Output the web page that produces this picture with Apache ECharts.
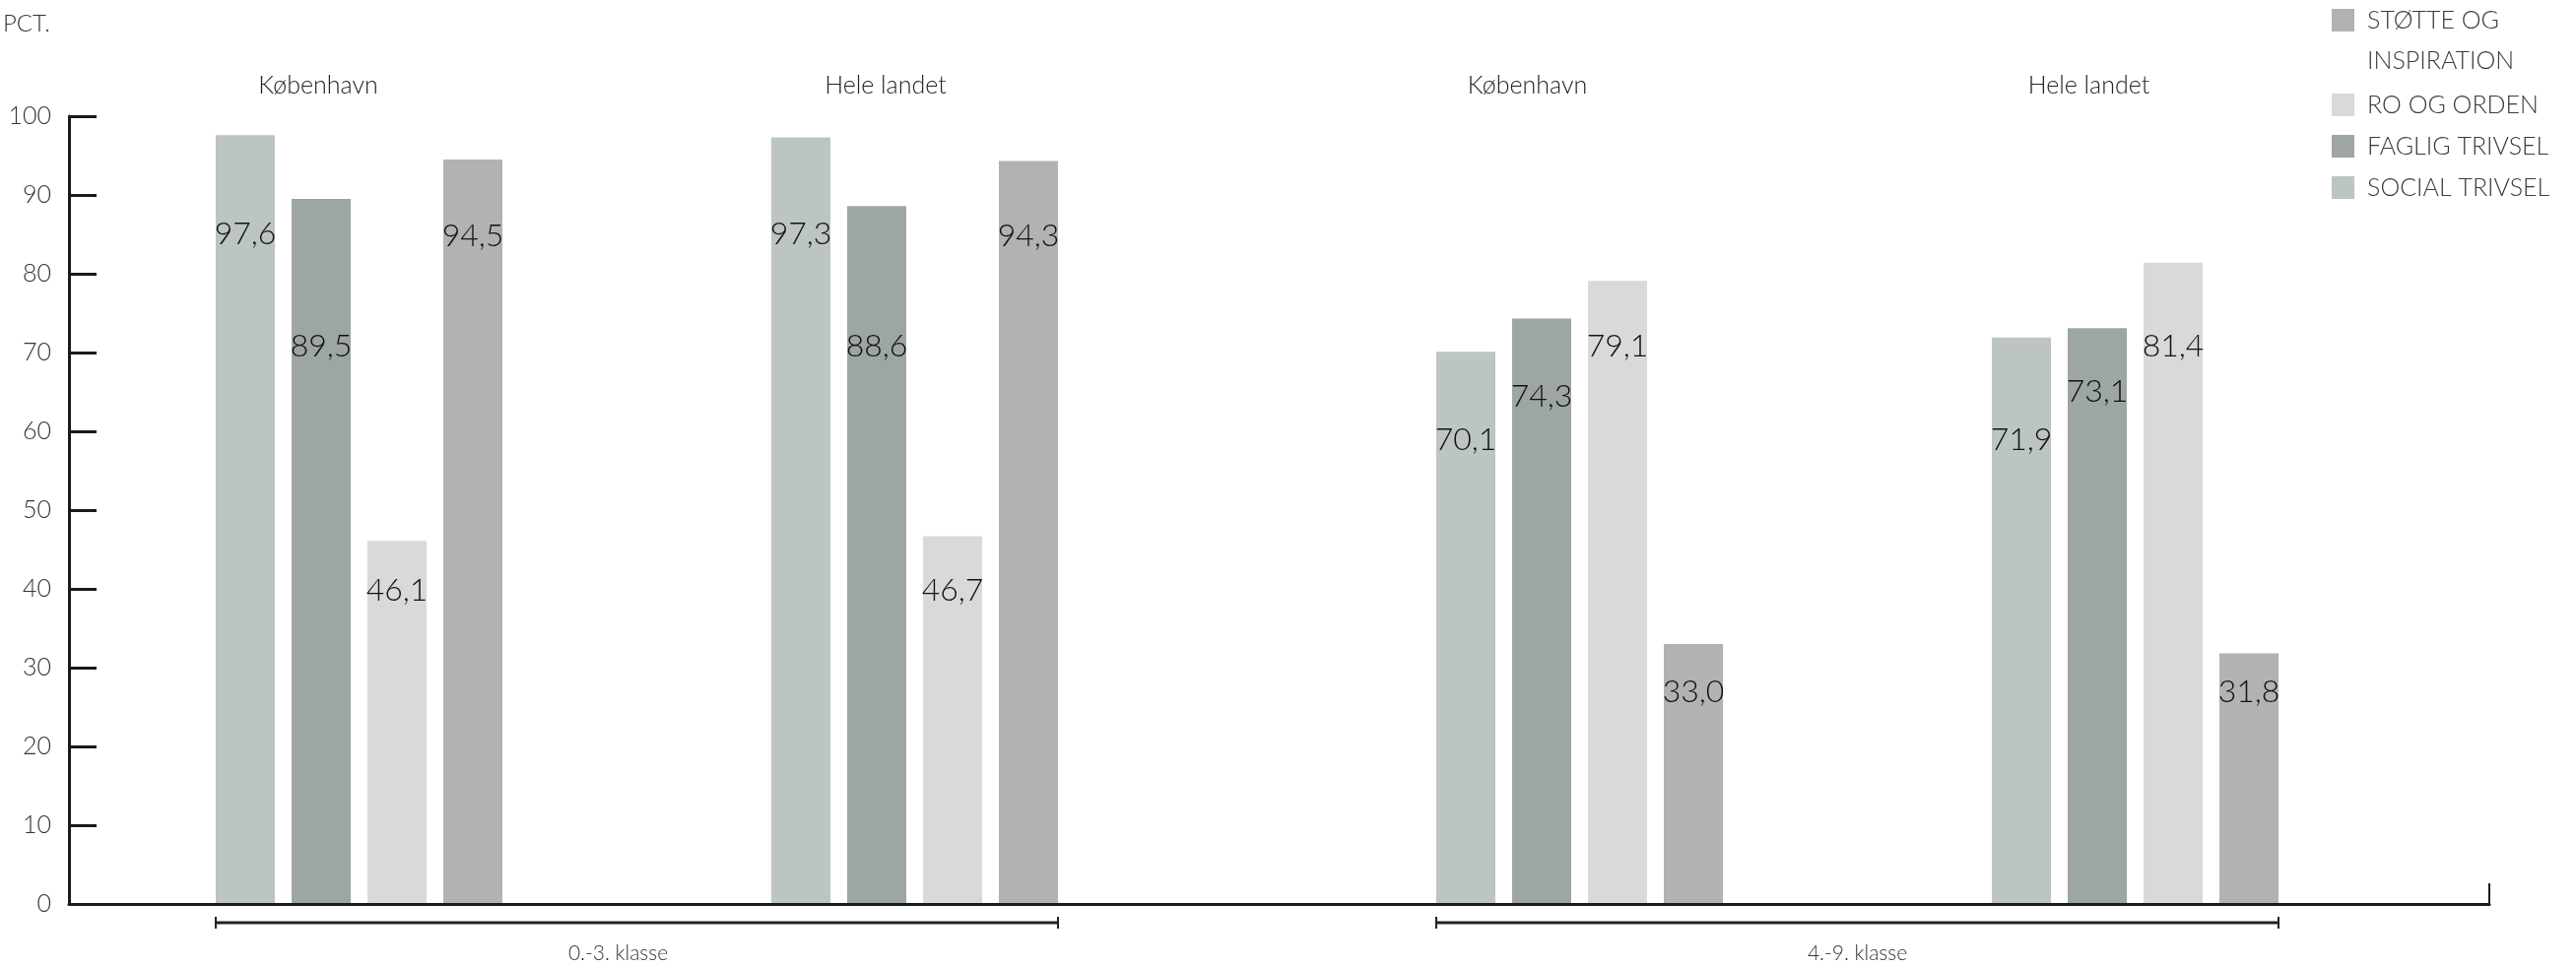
<!DOCTYPE html>
<html><head><meta charset="utf-8">
<script src="https://cdn.jsdelivr.net/npm/echarts@6/dist/echarts.min.js"></script>
<style>html,body{margin:0;padding:0;background:#fff}#c{width:2615px;height:982px}</style>
</head><body><div id="c"></div>
<script>
// ---- DATA ----
const categories = ['København', 'Hele landet'];
const sections = ['0.-3. klasse', '4.-9. klasse'];
const seriesNames = ['Social trivsel', 'Faglig trivsel', 'Ro og orden', 'Støtte og inspiration'];
// order: [København 0.-3., Hele landet 0.-3., København 4.-9., Hele landet 4.-9.]
const socialTrivsel       = [97.6, 97.3, 70.1, 71.9];
const fagligTrivsel       = [89.5, 88.6, 74.3, 73.1];
const roOgOrden           = [46.1, 46.7, 79.1, 81.4];
const stotteOgInspiration = [94.5, 94.3, 33.0, 31.8];
const yMin = 0, yMax = 100, yStep = 10;

// ---- STYLE / LAYOUT ----
const FONT = "Lato, 'Open Sans', sans-serif";
const COLORS = ['#bcc5c0', '#9ea6a1', '#d9d9d9', '#b2b2b2'];
const PLOT_TOP = 118, PLOT_H = 800;
const BAR_W = 60, BAR_GAP_PX = 17;
const SEC_LEFT = [82.5, 1321.5], SEC_W = 1128;
// vertical level (in axis units) where each value label is centred
const LABEL_LEVEL = [
  [85, 85, 58.9, 58.9],
  [70.75, 70.75, 64.4, 65],
  [39.75, 39.75, 70.75, 70.75],
  [84.75, 84.75, 26.9, 26.9]
];
// horizontal shift of the place-name labels and section labels (px, negative = left)
const CAT_SHIFT = [-41.5, -29.5, -53, -47];
const SEC_SHIFT = [-19, 0];

const seriesValues = [socialTrivsel, fagligTrivsel, roOgOrden, stotteOgInspiration];
const pxPerUnit = PLOT_H / (yMax - yMin);
const fmt = v => v.toFixed(1).replace('.', ',');

const grids = [{ left: 70, right: 88, top: PLOT_TOP, height: PLOT_H }];
const xAxes = [{
  gridIndex: 0, type: 'value', min: 0, max: 1, interval: 1, z: 6,
  axisLine: { show: true, lineStyle: { color: '#1a1a1a', width: 3 } },
  axisTick: { show: true, inside: true, length: 21, lineStyle: { color: '#1a1a1a', width: 2 } },
  axisLabel: { show: false }, splitLine: { show: false }
}];
const yAxes = [{
  gridIndex: 0, type: 'value', min: yMin, max: yMax, interval: yStep, z: 6,
  axisLine: { show: true, lineStyle: { color: '#1a1a1a', width: 3 } },
  axisTick: { show: true, inside: true, length: 28, lineStyle: { color: '#1a1a1a', width: 3 } },
  axisLabel: { margin: 18, fontSize: 25, fontFamily: FONT, fontWeight: 300, color: '#333' },
  splitLine: { show: false }
}];
const series = [];
sections.forEach((sec, s) => {
  grids.push({ left: SEC_LEFT[s], width: SEC_W, top: PLOT_TOP, height: PLOT_H });
  xAxes.push({
    gridIndex: s + 1, type: 'category', position: 'top',
    data: categories.map((c, i) => ({ value: c, textStyle: { padding: [0, -2 * CAT_SHIFT[2 * s + i], 0, 0] } })),
    axisLine: { show: false }, axisTick: { show: false }, splitLine: { show: false },
    axisLabel: { margin: 19, fontSize: 25, fontFamily: FONT, fontWeight: 300, color: '#222', interval: 0 }
  });
  yAxes.push({ gridIndex: s + 1, type: 'value', min: yMin, max: yMax, show: false, splitLine: { show: false } });
  seriesNames.forEach((name, k) => {
    series.push({
      type: 'bar', name, xAxisIndex: s + 1, yAxisIndex: s + 1,
      barWidth: BAR_W, barGap: (BAR_GAP_PX / BAR_W * 100) + '%',
      itemStyle: { color: COLORS[k] },
      label: {
        show: true, position: 'insideTop', distance: 0, verticalAlign: 'middle', align: 'center',
        fontSize: 32, fontFamily: FONT, fontWeight: 300, color: '#111',
        formatter: p => fmt(p.value)
      },
      data: seriesValues[k].slice(2 * s, 2 * s + 2).map((v, i) => ({
        value: v,
        label: { offset: [0, (v - LABEL_LEVEL[k][2 * s + i]) * pxPerUnit] }
      }))
    });
  });
});

const legendText = { fontSize: 25, fontFamily: FONT, fontWeight: 300, color: '#3a3a3a', lineHeight: 23, padding: [0, 0, 0, 8] };
const option = {
  animation: false,
  backgroundColor: '#fff',
  title: { text: 'PCT.', left: 3, top: 12, padding: 0,
           textStyle: { fontSize: 24, fontFamily: FONT, fontWeight: 300, color: '#333' } },
  legend: [
    { data: [seriesNames[3]], orient: 'vertical', left: 2367, top: 8, padding: 0,
      itemWidth: 23, itemHeight: 23, icon: 'rect', selectedMode: false,
      formatter: n => n.toUpperCase().split(' INSPIRATION')[0],
      textStyle: legendText },
    { data: [seriesNames[2], seriesNames[1], seriesNames[0]], orient: 'vertical', left: 2367, top: 94, padding: 0,
      itemWidth: 23, itemHeight: 23, itemGap: 17, icon: 'rect', selectedMode: false,
      formatter: n => n.toUpperCase(),
      textStyle: legendText }
  ],
  grid: grids, xAxis: xAxes, yAxis: yAxes, series
};

const chart = echarts.init(document.getElementById('c'), null, { renderer: 'canvas' });
chart.setOption(option);

// second line of the first legend entry
const graphics = [{
  type: 'text', x: 2367 + 23 + 5 + 8, y: 62,
  style: { text: 'INSPIRATION', align: 'left', verticalAlign: 'middle', fontSize: 25, fontFamily: FONT, fontWeight: 300, fill: '#3a3a3a' }
}];
// section brackets below the axis, positioned from the category axes
const groupHalf = (4 * BAR_W + 3 * BAR_GAP_PX) / 2;
const BR_Y = 937;
sections.forEach((sec, s) => {
  const x0 = chart.convertToPixel({ xAxisIndex: s + 1 }, categories[0]) - groupHalf;
  const x1 = chart.convertToPixel({ xAxisIndex: s + 1 }, categories[categories.length - 1]) + groupHalf;
  graphics.push(
    { type: 'line', shape: { x1: x0, y1: BR_Y, x2: x1, y2: BR_Y }, style: { stroke: '#222', lineWidth: 3 } },
    { type: 'line', shape: { x1: x0, y1: BR_Y - 6, x2: x0, y2: BR_Y + 6 }, style: { stroke: '#222', lineWidth: 2 } },
    { type: 'line', shape: { x1: x1, y1: BR_Y - 6, x2: x1, y2: BR_Y + 6 }, style: { stroke: '#222', lineWidth: 2 } },
    { type: 'text', x: (x0 + x1) / 2 + SEC_SHIFT[s], y: 968,
      style: { text: sec, align: 'center', verticalAlign: 'middle', fontSize: 21, fontFamily: FONT, fontWeight: 300, fill: '#333' } }
  );
});
chart.setOption({ graphic: graphics });
</script>
</body></html>
